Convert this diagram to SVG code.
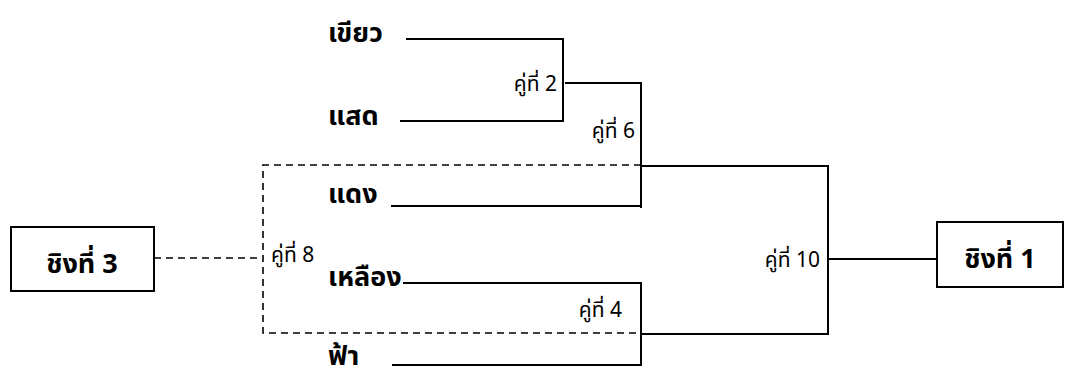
<svg xmlns="http://www.w3.org/2000/svg" width="1070" height="369" viewBox="0 0 1070 369">
<style>
.team{font-family:"Noto Sans Thai","Noto Sans","DejaVu Sans",sans-serif;font-size:27px;font-weight:bold;fill:#000}
.match{font-family:"Noto Sans Thai","Noto Sans","DejaVu Sans",sans-serif;font-size:21px;fill:#000}
.ln{stroke:#000;stroke-width:2;fill:none}
.dash{stroke:#000;stroke-width:1.6;fill:none;stroke-dasharray:7,5}
.box{stroke:#000;stroke-width:2;fill:#fff}
</style>
<rect width="1070" height="369" fill="#fff"/>
<g id="connectors">
<path class="ln" d="M406,39 H563 V121 H400"/>
<path class="ln" d="M565,83 H641 V208"/>
<path class="ln" d="M391,206 H641"/>
<path class="ln" d="M641,166 H828 V334 H641"/>
<path class="ln" d="M403,283 H641 V365 H392"/>
<path class="ln" d="M829,259 H937"/>
<path class="dash" d="M641,165 H263 V333 H641"/>
<path class="dash" d="M154,258 H262"/>
</g>
<g id="team-khiao"><text class="team" x="328" y="42">เขียว</text></g>
<g id="team-saet"><text class="team" x="328" y="125">แสด</text></g>
<g id="team-daeng"><text class="team" x="328" y="203">แดง</text></g>
<g id="team-lueang"><text class="team" x="328" y="286">เหลือง</text></g>
<g id="team-fa"><text class="team" x="328" y="365">ฟ้า</text></g>
<g id="match-2"><text class="match" x="557" y="91" text-anchor="end">คู่ที่ 2</text></g>
<g id="match-6"><text class="match" x="635" y="138" text-anchor="end">คู่ที่ 6</text></g>
<g id="match-8"><text class="match" x="271" y="262">คู่ที่ 8</text></g>
<g id="match-4"><text class="match" x="622" y="317" text-anchor="end">คู่ที่ 4</text></g>
<g id="match-10"><text class="match" x="820" y="267" text-anchor="end">คู่ที่ 10</text></g>
<g id="final-1"><rect class="box" x="937" y="222" width="126" height="65"/><text class="team" x="1000" y="268" text-anchor="middle">ชิงที่ 1</text></g>
<g id="final-3"><rect class="box" x="11" y="227" width="143" height="64"/><text class="team" x="82" y="273" text-anchor="middle">ชิงที่ 3</text></g>
</svg>
